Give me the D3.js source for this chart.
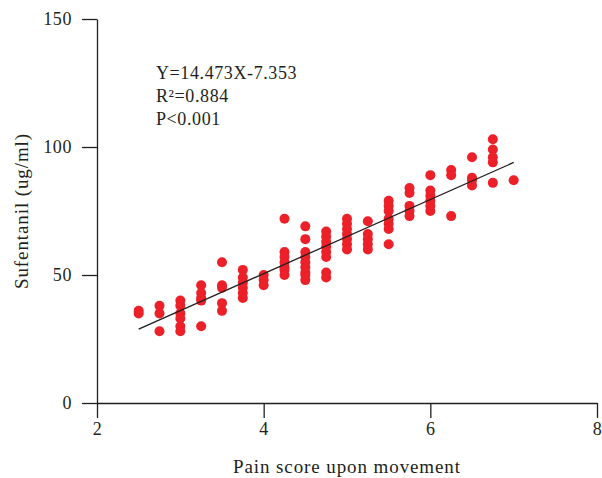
<!DOCTYPE html>
<html>
<head>
<meta charset="utf-8">
<script src="https://cdn.jsdelivr.net/npm/d3@7"></script>
<style>
    body { margin: 0; background: #fff; }
    svg text { font-family: "Liberation Serif", "DejaVu Serif", serif; fill: #231f20; }
</style>
</head>
<body>
<div id="chart"></div>
<script>
// pain score (x) for each patient
const painScore = [
    2.5, 2.5,
    2.75, 2.75, 2.75,
    3, 3, 3, 3, 3, 3,
    3.25, 3.25, 3.25, 3.25, 3.25,
    3.5, 3.5, 3.5, 3.5, 3.5,
    3.75, 3.75, 3.75, 3.75, 3.75, 3.75,
    4, 4, 4,
    4.25, 4.25, 4.25, 4.25, 4.25, 4.25, 4.25,
    4.5, 4.5, 4.5, 4.5, 4.5, 4.5, 4.5, 4.5, 4.5,
    4.75, 4.75, 4.75, 4.75, 4.75, 4.75, 4.75, 4.75,
    5, 5, 5, 5, 5, 5, 5,
    5.25, 5.25, 5.25, 5.25, 5.25,
    5.5, 5.5, 5.5, 5.5, 5.5, 5.5, 5.5,
    5.75, 5.75, 5.75, 5.75, 5.75,
    6, 6, 6, 6, 6, 6,
    6.25, 6.25, 6.25,
    6.5, 6.5, 6.5, 6.5,
    6.75, 6.75, 6.75, 6.75, 6.75,
    7
];

// sufentanil (ug/ml), same order as painScore
const sufentanil = [
    36, 35,
    38, 35, 28,
    40, 38, 35, 33, 30, 28,
    46, 43, 41, 40, 30,
    55, 46, 45, 39, 36,
    52, 49, 47, 45, 43, 41,
    50, 48, 46,
    72, 59, 57, 55, 53, 52, 50,
    69, 64, 59, 57, 55, 53, 51, 50, 48,
    67, 65, 63, 61, 59, 57, 51, 49,
    72, 70, 68, 66, 64, 62, 60,
    71, 66, 64, 62, 60,
    79, 77, 75, 72, 70, 68, 62,
    84, 82, 77, 75, 73,
    89, 83, 81, 79, 77, 75,
    91, 89, 73,
    96, 88, 87, 85,
    103, 99, 96, 94, 86,
    87
];

const xTicks = [2, 4, 6, 8];
const yTicks = [0, 50, 100, 150];

// fitted line from the figure
const slope = 14.473;
const intercept = -7.353;
const fitRange = [2.5, 7];
const statLines = ["Y=14.473X-7.353", "R²=0.884", "P<0.001"];

const width = 602, height = 478;

let svg = d3.select('#chart')
            .append('svg')
                .attr('width', width)
                .attr('height', height);

let xScale = d3.scaleLinear()
                .domain([2, 8])
                .range([97, 597]);

let yScale = d3.scaleLinear()
                .domain([0, 150])
                .range([403, 19]);

let xAxis = d3.axisBottom(xScale)
                .tickValues(xTicks)
                .tickFormat(d3.format('d'))
                .tickSize(15)
                .tickSizeOuter(0)
                .tickPadding(4);

let yAxis = d3.axisLeft(yScale)
                .tickValues(yTicks)
                .tickFormat(d3.format('d'))
                .tickSize(15)
                .tickSizeOuter(0)
                .tickPadding(10);

let gx = svg.append('g')
            .attr('transform', `translate(0, ${yScale(0)})`)
            .call(xAxis);

let gy = svg.append('g')
            .attr('transform', `translate(${xScale(2)}, 0)`)
            .call(yAxis);

// axis styling - thin dark lines, serif labels
[gx, gy].forEach(function(g) {
    g.selectAll('path, line').attr('stroke', '#231f20').attr('stroke-width', 1.3);
    g.selectAll('text')
        .style('font-size', '18px')
        .style('letter-spacing', '0.6px')
        .attr('fill', '#231f20');
});
gy.selectAll('text').attr('dy', '0.3em');

// points
svg.append('g').selectAll('circle')
    .data(painScore)
    .enter()
    .append('circle')
        .attr('cx', function(d) { return xScale(d); })
        .attr('cy', function(d, i) { return yScale(sufentanil[i]); })
        .attr('r', 5)
        .attr('fill', '#ec2028');

// regression line
svg.append('line')
    .attr('x1', xScale(fitRange[0]))
    .attr('y1', yScale(slope * fitRange[0] + intercept))
    .attr('x2', xScale(fitRange[1]))
    .attr('y2', yScale(slope * fitRange[1] + intercept))
    .attr('stroke', '#231f20')
    .attr('stroke-width', 1.3);

// stats text
let stats = svg.append('text')
                .attr('x', 156)
                .attr('y', 79)
                .style('font-size', '18px')
                .style('letter-spacing', '0.6px');

stats.append('tspan').attr('x', 156).attr('y', 79).text(statLines[0]);
stats.append('tspan').attr('x', 156).attr('y', 102).text(statLines[1]);
stats.append('tspan').attr('x', 156).attr('y', 125).text(statLines[2]);

// axis titles
svg.append('text')
    .attr('x', (xScale(2) + xScale(8)) / 2)
    .attr('y', 473)
    .attr('text-anchor', 'middle')
    .style('font-size', '19px')
    .style('letter-spacing', '0.9px')
    .text('Pain score upon movement');

svg.append('text')
    .attr('transform', `translate(28, ${(yScale(0) + yScale(150)) / 2}) rotate(-90)`)
    .attr('text-anchor', 'middle')
    .style('font-size', '19px')
    .style('letter-spacing', '0.9px')
    .text('Sufentanil (ug/ml)');
</script>
</body>
</html>
